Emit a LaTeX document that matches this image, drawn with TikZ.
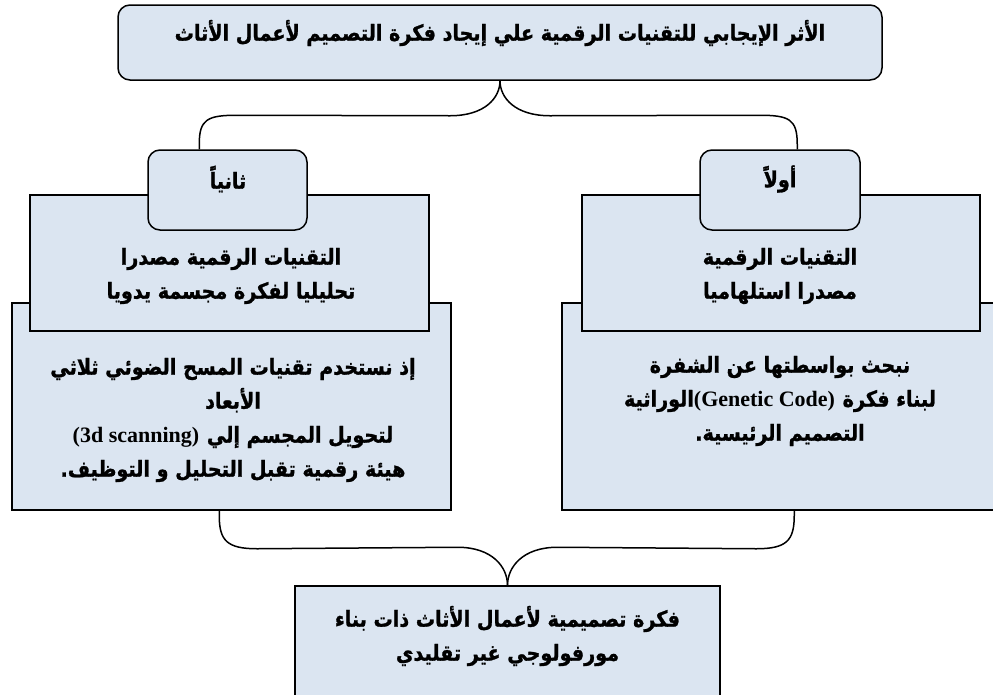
\documentclass[tikz,border=0pt]{standalone}
\usepackage{fontspec}
\newfontfamily\arabicfont[Script=Arabic, BoldFeatures={FakeBold=1.3}]{DejaVu Sans}
\newfontfamily\latinfont{Liberation Serif}
\TeXXeTstate=1
\usetikzlibrary{calc}
\definecolor{boxfill}{HTML}{DBE5F1}
\newcommand{\artxt}[1]{\scalebox{0.87}[1]{\beginR #1\endR}}
\newcommand{\lattxt}[1]{{\latinfont\bfseries\fontsize{22}{34}\selectfont #1}}
\begin{document}
\begin{tikzpicture}[x=1pt,y=-1pt,
  box/.style={draw=black, line width=1.5pt, fill=boxfill, inner sep=0pt},
  rbox/.style={box, rounded corners=12pt},
  txt/.style={font=\arabicfont\bfseries\fontsize{22}{34}\selectfont, align=center, inner sep=0pt},
  brace/.style={draw=black, line width=1.5pt}]
\useasboundingbox (0,0) rectangle (993,694);
\fill[white] (0,0) rectangle (993,694);

% top box
\node[rbox, minimum width=764pt, minimum height=75pt] (top) at (500,42.5) {};
\node[txt] (toptxt) at (500,33) {\artxt{الأثر الإيجابي للتقنيات الرقمية علي إيجاد فكرة التصميم لأعمال الأثاث}};

% lower boxes
\node[box, minimum width=439pt, minimum height=207pt] (lowL) at (231.5,406.5) {};
\node[box, minimum width=436pt, minimum height=207pt] (lowR) at (780,406.5) {};
% middle boxes
\node[box, minimum width=399pt, minimum height=136pt] (midL) at (229.5,263) {};
\node[box, minimum width=398pt, minimum height=136pt] (midR) at (781,263) {};
% small boxes
\node[rbox, minimum width=159pt, minimum height=80pt] (smL) at (227.5,190) {};
\node[rbox, minimum width=160pt, minimum height=80pt] (smR) at (780,190) {};
% bottom box
\node[box, minimum width=425pt, minimum height=150pt] (bot) at (507.5,661) {};

% texts
\node[txt] (smLt) at (228,179) {\artxt{ثانياً}};
\node[txt] (smRt) at (780,179) {\artxt{أولاً}};
\node[txt] (midLt) at (231,276) {\artxt{التقنيات الرقمية مصدرا}\\\artxt{تحليليا لفكرة مجسمة يدويا}};
\node[txt] (midRt) at (780,276) {\artxt{التقنيات الرقمية}\\\artxt{مصدرا استلهاميا}};
\node[txt] (lowLt) at (233,420) {\artxt{إذ نستخدم تقنيات المسح الضوئي ثلاثي}\\\artxt{الأبعاد}\\\lattxt{(3d scanning)} \artxt{لتحويل المجسم إلي}\\\artxt{هيئة رقمية تقبل التحليل و التوظيف.}};
\node[txt] (lowRt) at (780,401) {\artxt{نبحث بواسطتها عن الشفرة}\\\artxt{الوراثية}\lattxt{(Genetic Code)} \artxt{لبناء فكرة}\\\artxt{التصميم الرئيسية.}};
\node[txt] (bott) at (507.5,636) {\artxt{فكرة تصميمية لأعمال الأثاث ذات بناء}\\\artxt{مورفولوجي غير تقليدي}};

% braces
\coordinate (tA) at ($(smL.north west)+(52,0)$);
\coordinate (tB) at ($(smR.north west)+(98,0)$);
\coordinate (tT) at (top.south);
\draw[brace] (tA) -- ++(0,-5) .. controls +(0,-25) and +(-30,0) .. ++(38,-29)
  -- ($(tT)+(-50,35)$) .. controls +(35,0) and +(0,17) .. (tT);
\draw[brace] (tB) -- ++(0,-5) .. controls +(0,-25) and +(30,0) .. ++(-38,-29)
  -- ($(tT)+(50,35)$) .. controls +(-35,0) and +(0,17) .. (tT);

\coordinate (bA) at ($(lowL.south west)+(208,0)$);
\coordinate (bB) at ($(lowR.south west)+(233,0)$);
\coordinate (bT) at (bot.north);
\draw[brace] (bA) -- ++(0,5) .. controls +(0,25) and +(-30,0) .. ++(38,33)
  -- ($(bT)+(-50,-38)$) .. controls +(35,0) and +(0,-18) .. (bT);
\draw[brace] (bB) -- ++(0,5) .. controls +(0,25) and +(30,0) .. ++(-38,33)
  -- ($(bT)+(50,-38)$) .. controls +(-35,0) and +(0,-18) .. (bT);
\end{tikzpicture}
\end{document}
